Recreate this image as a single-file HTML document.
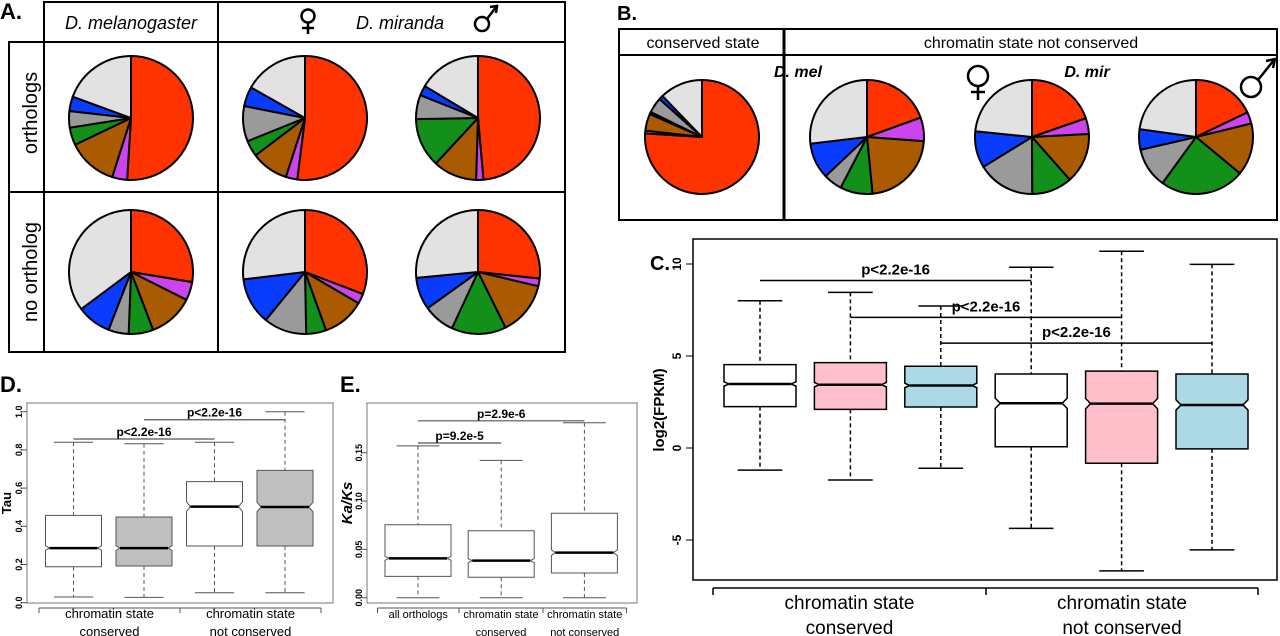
<!DOCTYPE html>
<html><head><meta charset="utf-8">
<style>
html,body{margin:0;padding:0;background:#fff;}
svg{display:block;}
text{font-family:"Liberation Sans",sans-serif;}
</style></head>
<body>
<svg id="fig" width="1280" height="636" viewBox="0 0 1280 636" xmlns="http://www.w3.org/2000/svg">
<g id="panelA">
  <text x="0" y="19" font-size="22" font-weight="bold">A.</text>
  <rect x="44" y="2" width="521" height="40" fill="none" stroke="#000" stroke-width="2"/>
  <line x1="218" y1="2" x2="218" y2="352" stroke="#000" stroke-width="2"/>
  <rect x="9" y="42" width="556" height="310" fill="none" stroke="#000" stroke-width="2"/>
  <line x1="9" y1="192" x2="565" y2="192" stroke="#000" stroke-width="2"/>
  <line x1="44" y1="42" x2="44" y2="352" stroke="#000" stroke-width="2"/>
  <text x="131" y="29" font-size="18" font-style="italic" text-anchor="middle">D. melanogaster</text>
  <text x="400" y="29" font-size="18" font-style="italic" text-anchor="middle">D. miranda</text>
  <g stroke="#000" stroke-width="2.5" fill="none">
    <circle cx="308" cy="16" r="6.5"/><line x1="308" y1="22" x2="308" y2="34"/><line x1="302" y1="28" x2="314" y2="28"/>
  </g>
  <g stroke="#000" stroke-width="2.5" fill="none">
    <circle cx="482" cy="24" r="7"/><line x1="487" y1="19" x2="496" y2="7"/><path d="M490 7 L497 6 L496 13" />
  </g>
  <text transform="translate(37,113) rotate(-90)" font-size="20" text-anchor="middle">orthologs</text>
  <text transform="translate(37,272) rotate(-90)" font-size="20" text-anchor="middle">no ortholog</text>
</g>
<g id="panelB">
  <text x="617" y="20" font-size="20" font-weight="bold">B.</text>
  <rect x="619" y="29" width="658" height="191" fill="none" stroke="#000" stroke-width="2"/>
  <line x1="619" y1="55" x2="1277" y2="55" stroke="#000" stroke-width="2"/>
  <line x1="784" y1="29" x2="784" y2="220" stroke="#000" stroke-width="3"/>
  <text x="703" y="48" font-size="16" text-anchor="middle">conserved state</text>
  <text x="1031" y="48" font-size="16" text-anchor="middle">chromatin state not conserved</text>
  <text x="798" y="77" font-size="16" font-style="italic" text-anchor="middle" font-weight="bold">D. mel</text>
  <text x="1087" y="77" font-size="16" font-style="italic" text-anchor="middle" font-weight="bold">D. mir</text>
  <g stroke="#000" stroke-width="2.5" fill="none">
    <circle cx="978" cy="76" r="10"/><line x1="978" y1="86" x2="978" y2="100"/><line x1="971" y1="92" x2="985" y2="92"/>
  </g>
  <g stroke="#000" stroke-width="2.5" fill="none">
    <circle cx="1251" cy="87" r="10"/><line x1="1258" y1="80" x2="1274" y2="60"/><path d="M1266 61 L1275 59 L1273 68"/>
  </g>
</g>
<g id="panelC">
  <text x="650" y="270" font-size="20" font-weight="bold">C.</text>
  <rect x="693" y="239" width="584" height="341" fill="none" stroke="#000" stroke-width="1.5"/>
  <text transform="translate(664,410) rotate(-90)" font-size="15" font-weight="bold" text-anchor="middle">log2(FPKM)</text>
</g>
<g id="panelD">
  <text x="0" y="392" font-size="22" font-weight="bold">D.</text>
  <rect x="27" y="403" width="306" height="200" fill="none" stroke="#777" stroke-width="1"/>
  <text transform="translate(11,503) rotate(-90)" font-size="13" font-weight="bold" text-anchor="middle">Tau</text>
</g>
<g id="panelE">
  <text x="340" y="392" font-size="22" font-weight="bold">E.</text>
  <rect x="367" y="403" width="270" height="200" fill="none" stroke="#777" stroke-width="1"/>
  <text transform="translate(352,503) rotate(-90)" font-size="15" font-weight="bold" font-style="italic" text-anchor="middle">Ka/Ks</text>
</g>
</svg>
<script>
// ---- Pie data (percent, clockwise from 12 o'clock) ----
var pieCategories = ['red','purple','brown','green','gray','blue','lightgray'];
var pieA_ortho_mel = [51, 3.9, 13, 4.6, 4.3, 3.8, 19.4];
var pieA_ortho_mirF = [52, 3, 9.7, 4.2, 9.2, 5.1, 16.8];
var pieA_ortho_mirM = [48.6, 1.9, 11.4, 12.8, 6.3, 2.6, 16.4];
var pieA_noortho_mel = [27.6, 4.8, 11.8, 6.4, 5.3, 8.9, 35.2];
var pieA_noortho_mirF = [30.8, 2.6, 11.1, 5.2, 11.2, 12.2, 26.9];
var pieA_noortho_mirM = [26.7, 2, 14, 14.2, 8.2, 8.4, 26.5];
var pieB_conserved = [76, 0.8, 4.8, 0.6, 4.4, 1.2, 12.2];
var pieB_mel = [19.5, 6.7, 22.3, 9.2, 5.3, 10.2, 26.9];
var pieB_mirF = [19.7, 4.5, 14.3, 11.5, 16.3, 10.4, 23.4];
var pieB_mirM = [17.9, 3.3, 14.8, 24, 11.4, 5.8, 22.8];

// ---- Panel C box data (log2 FPKM) ----
var cGroups = ['conserved-mel','conserved-mirF','conserved-mirM','notcons-mel','notcons-mirF','notcons-mirM'];
var cLow = [-1.2, -1.74, -1.1, -4.37, -6.68, -5.54];
var cQ1 = [2.25, 2.1, 2.23, 0.07, -0.83, -0.05];
var cMed = [3.48, 3.44, 3.4, 2.43, 2.41, 2.34];
var cQ3 = [4.53, 4.64, 4.44, 4.02, 4.18, 4.02];
var cHigh = [8.0, 8.46, 7.72, 9.82, 10.69, 9.98];
var cNotch = [0.12, 0.12, 0.12, 0.28, 0.28, 0.28];
var cTicks = [-5, 0, 5, 10];
var cTickLabels = ['-5','0','5','10'];
var cXLabels = [['chromatin state','conserved'],['chromatin state','not conserved']];
var cSig = [[0,3,9.1],[1,4,7.1],[2,5,5.7]];
var cSigLabels = ['p<2.2e-16','p<2.2e-16','p<2.2e-16'];

// ---- Panel D data (Tau) ----
var dLow = [0.03, 0.028, 0.052, 0.052];
var dQ1 = [0.188, 0.192, 0.297, 0.297];
var dMed = [0.286, 0.286, 0.503, 0.501];
var dQ3 = [0.457, 0.449, 0.634, 0.693];
var dHigh = [0.84, 0.832, 0.84, 1.0];
var dNotch = [0.012, 0.012, 0.025, 0.025];
var dTicks = [0, 0.2, 0.4, 0.6, 0.8, 1.0];
var dTickLabels = ['0.0','0.2','0.4','0.6','0.8','1.0'];
var dXLabels = [['chromatin state','conserved'],['chromatin state','not conserved']];
var dSig = [[0,2,0.857],[1,3,0.958]];
var dSigLabels = ['p<2.2e-16','p<2.2e-16'];

// ---- Panel E data (Ka/Ks) ----
var eLow = [0, 0, 0];
var eQ1 = [0.0221, 0.0211, 0.0255];
var eMed = [0.0407, 0.0383, 0.0466];
var eQ3 = [0.0755, 0.0693, 0.0873];
var eHigh = [0.157, 0.142, 0.181];
var eNotch = [0.002, 0.002, 0.003];
var eTicks = [0, 0.05, 0.10, 0.15];
var eTickLabels = ['0.00','0.05','0.10','0.15'];
var eXLabels = [['all orthologs'],['chromatin state','conserved'],['chromatin state','not conserved']];
var eSig = [[0,1,0.16],[0,2,0.183]];
var eSigLabels = ['p=9.2e-5','p=2.9e-6'];

var NS='http://www.w3.org/2000/svg';
var svg=document.getElementById('fig');
var pieColors={red:'#ff3300',purple:'#cc44ee',brown:'#aa5a00',green:'#12901a',gray:'#9a9a9a',blue:'#0a3cff',lightgray:'#e2e2e2'};
function mk(tag,attrs,parent){var e=document.createElementNS(NS,tag);for(var k in attrs)e.setAttribute(k,attrs[k]);(parent||svg).appendChild(e);return e;}

function drawPie(name,cx,cy,r,vals){
  var g=mk('g',{});
  
  
  var tot=vals.reduce(function(a,b){return a+b;},0);
  var a0=0;
  for(var i=0;i<vals.length;i++){
    var a1=a0+vals[i]/tot*2*Math.PI;
    var x0=cx+r*Math.sin(a0),y0=cy-r*Math.cos(a0),x1=cx+r*Math.sin(a1),y1=cy-r*Math.cos(a1);
    var large=(a1-a0)>Math.PI?1:0;
    var p=mk('path',{d:'M'+cx+' '+cy+' L'+x0+' '+y0+' A'+r+' '+r+' 0 '+large+' 1 '+x1+' '+y1+' Z',fill:pieColors[pieCategories[i]],stroke:'#000','stroke-width':2,'stroke-linejoin':'round'},g);
    
    
    a0=a1;
  }
}
drawPie('pie-orthologs-mel',131,118,62,pieA_ortho_mel);
drawPie('pie-orthologs-mir-female',305,118,62,pieA_ortho_mirF);
drawPie('pie-orthologs-mir-male',478,118,62,pieA_ortho_mirM);
drawPie('pie-no-ortholog-mel',131,272,62,pieA_noortho_mel);
drawPie('pie-no-ortholog-mir-female',305,272,62,pieA_noortho_mirF);
drawPie('pie-no-ortholog-mir-male',478,272,62,pieA_noortho_mirM);
drawPie('pie-conserved-state',702,137,57,pieB_conserved);
drawPie('pie-not-conserved-mel',867,137,57,pieB_mel);
drawPie('pie-not-conserved-mir-female',1032,137,57,pieB_mirF);
drawPie('pie-not-conserved-mir-male',1196,137,57,pieB_mirM);

function boxplot(cfg){
  var yS=function(v){return cfg.y0+(v-cfg.v0)*(cfg.y1-cfg.y0)/(cfg.v1-cfg.v0);};
  var xS=function(i){return cfg.xFirst+i*cfg.xStep;};
  var g=mk('g',{});
  
  
  for(var i=0;i<cfg.med.length;i++){
    var x=xS(i),w=cfg.hw,cap=w*cfg.cap;
    var yq1=yS(cfg.q1[i]),yq3=yS(cfg.q3[i]),ym=yS(cfg.med[i]),nT=yS(cfg.med[i]+cfg.notch[i]),nB=yS(cfg.med[i]-cfg.notch[i]);
    var wl=mk('line',{x1:x,y1:yS(cfg.high[i]),x2:x,y2:yq3,stroke:cfg.ln,'stroke-width':cfg.lw,'stroke-dasharray':'4,3'},g);
    
    
    var wl2=mk('line',{x1:x,y1:yq1,x2:x,y2:yS(cfg.low[i]),stroke:cfg.ln,'stroke-width':cfg.lw,'stroke-dasharray':'4,3'},g);
    
    
    mk('line',{x1:x-cap,y1:yS(cfg.high[i]),x2:x+cap,y2:yS(cfg.high[i]),stroke:cfg.ln,'stroke-width':cfg.lw},g);
    mk('line',{x1:x-cap,y1:yS(cfg.low[i]),x2:x+cap,y2:yS(cfg.low[i]),stroke:cfg.ln,'stroke-width':cfg.lw},g);
    var ni=cfg.ni;
    var d='M'+(x-w)+' '+yq3+' L'+(x+w)+' '+yq3+' L'+(x+w)+' '+nT+' L'+(x+w-ni)+' '+ym+' L'+(x+w)+' '+nB+' L'+(x+w)+' '+yq1+' L'+(x-w)+' '+yq1+' L'+(x-w)+' '+nB+' L'+(x-w+ni)+' '+ym+' L'+(x-w)+' '+nT+' Z';
    var b=mk('path',{d:d,fill:cfg.fills[i],stroke:cfg.ln,'stroke-width':cfg.lw},g);
    
    
    var m=mk('line',{x1:x-w+ni,y1:ym,x2:x+w-ni,y2:ym,stroke:'#000','stroke-width':cfg.mw},g);
    
    
  }
  for(var t=0;t<cfg.ticks.length;t++){
    var yy=yS(cfg.ticks[t]);
    mk('line',{x1:cfg.fl-cfg.tl,y1:yy,x2:cfg.fl,y2:yy,stroke:cfg.axc,'stroke-width':1});
    var tx=mk('text',{transform:'translate('+cfg.tlx+','+yy+') rotate(-90)','font-size':cfg.tfs,'font-weight':'bold','text-anchor':'middle'});
    tx.textContent=cfg.tickLabels[t];
    
    
  }
  mk('line',{x1:cfg.xt[0],y1:cfg.xay,x2:cfg.xt[cfg.xt.length-1],y2:cfg.xay,stroke:cfg.axc,'stroke-width':cfg.xlw});
  for(var k=0;k<cfg.xt.length;k++) mk('line',{x1:cfg.xt[k],y1:cfg.xay,x2:cfg.xt[k],y2:cfg.xay+cfg.tl,stroke:cfg.axc,'stroke-width':cfg.xlw});
  for(var j=0;j<cfg.xlabels.length;j++){
    var cx=(cfg.xt[j]+cfg.xt[j+1])/2;
    for(var l=0;l<cfg.xlabels[j].length;l++){
      var lt=mk('text',{x:cx,y:cfg.xly+l*cfg.xll,'font-size':cfg.xfs,'text-anchor':'middle'});
      lt.textContent=cfg.xlabels[j][l];
      
      
    }
  }
  for(var s=0;s<cfg.sig.length;s++){
    var a=xS(cfg.sig[s][0]),bb=xS(cfg.sig[s][1]),sy=yS(cfg.sig[s][2]);
    var sl=mk('line',{x1:a,y1:sy,x2:bb,y2:sy,stroke:cfg.ln,'stroke-width':cfg.sw});
    
    
    var st=mk('text',{x:(a+bb)/2,y:sy-cfg.sgo,'font-size':cfg.sfs,'font-weight':'bold','text-anchor':'middle'});
    st.textContent=cfg.sigLabels[s];
    
    
  }
}
boxplot({name:'c',v0:0,v1:10,y0:448,y1:264,xFirst:760,xStep:90.4,hw:36,cap:0.62,ni:5,
  low:cLow,q1:cQ1,med:cMed,q3:cQ3,high:cHigh,notch:cNotch,fills:['#fff','#ffc0cb','#add8e6','#fff','#ffc0cb','#add8e6'],
  ln:'#000',lw:1.5,mw:2.5,axc:'#000',fl:693,tl:7,tlx:681,tfs:12,ticks:cTicks,tickLabels:cTickLabels,
  xt:[713,986,1258],xay:588,xlw:1.5,xlabels:cXLabels,xly:609,xll:25,xfs:19,sig:cSig,sigLabels:cSigLabels,sw:1.5,sgo:6,sfs:15});
boxplot({name:'d',v0:0,v1:1,y0:602.7,y1:411.7,xFirst:73.5,xStep:70.5,hw:28,cap:0.7,ni:4,
  low:dLow,q1:dQ1,med:dMed,q3:dQ3,high:dHigh,notch:dNotch,fills:['#fff','#c0c0c0','#fff','#c0c0c0'],
  ln:'#555',lw:1,mw:2.5,axc:'#555',fl:27,tl:5,tlx:22,tfs:9,ticks:dTicks,tickLabels:dTickLabels,
  xt:[39,180,321],xay:608,xlw:1,xlabels:dXLabels,xly:618,xll:18,xfs:13,sig:dSig,sigLabels:dSigLabels,sw:1.2,sgo:3,sfs:12});
boxplot({name:'e',v0:0,v1:0.15,y0:597.7,y1:452.7,xFirst:418,xStep:83.2,hw:33,cap:0.65,ni:4,
  low:eLow,q1:eQ1,med:eMed,q3:eQ3,high:eHigh,notch:eNotch,fills:['#fff','#fff','#fff'],
  ln:'#555',lw:1,mw:2.5,axc:'#555',fl:367,tl:5,tlx:362,tfs:9,ticks:eTicks,tickLabels:eTickLabels,
  xt:[377.5,459,543,626.5],xay:608,xlw:1,xlabels:eXLabels,xly:618,xll:18,xfs:11,sig:eSig,sigLabels:eSigLabels,sw:1.2,sgo:3,sfs:12});
</script>
</body></html>
